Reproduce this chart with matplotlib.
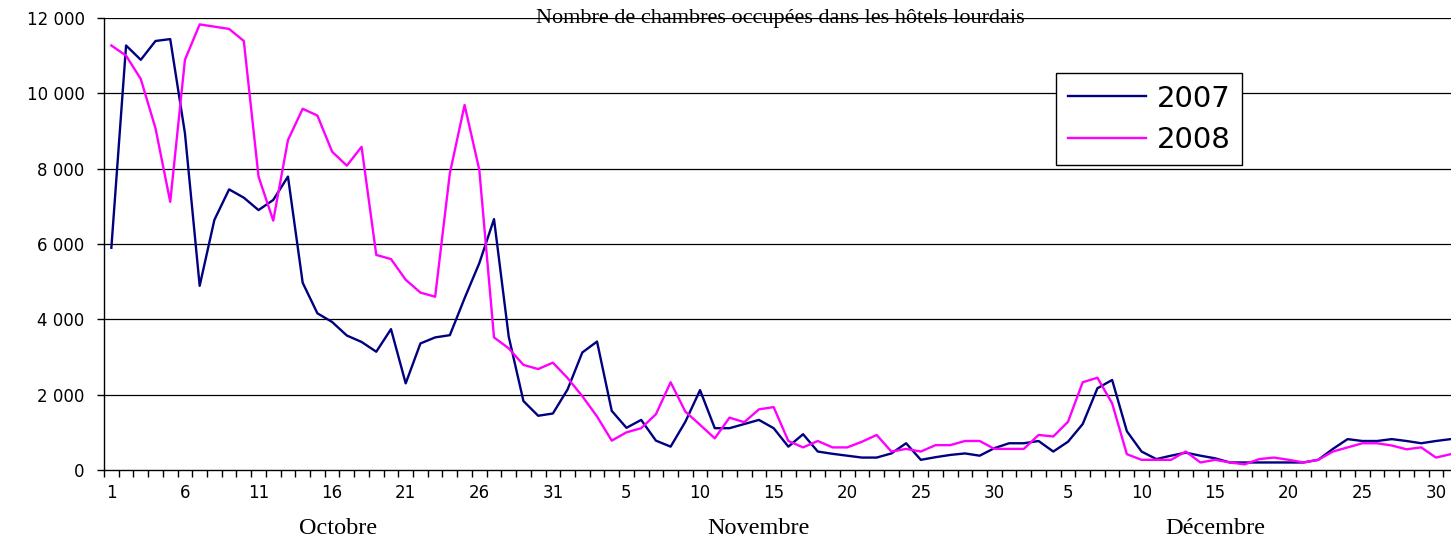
import numpy as np
import matplotlib
matplotlib.use('Agg')
import matplotlib.pyplot as plt
import matplotlib.transforms as mtransforms
from matplotlib.ticker import FixedLocator, FuncFormatter

# Nombre de chambres occupées par jour, du 1er octobre au 31 décembre
occ_2007 = [5900, 11270, 10890, 11390, 11440, 8940, 4890, 6640, 7450, 7230,
            6900, 7170, 7790, 4970, 4160, 3930, 3570, 3400, 3140, 3740,
            2300, 3360, 3520, 3580, 4560, 5490, 6660, 3540, 1830, 1440, 1500,
            # novembre
            2140, 3120, 3410, 1570, 1120, 1330, 780, 620, 1280, 2120,
            1110, 1110, 1220, 1330, 1110, 620, 950, 490, 430, 380,
            330, 330, 440, 710, 270, 340, 400, 440, 380, 580,
            # decembre
            710, 710, 770, 490, 750, 1220, 2170, 2390, 1030, 490,
            290, 380, 460, 380, 310, 200, 200, 200, 200, 200,
            200, 270, 560, 820, 770, 770, 820, 770, 710, 770, 820]

occ_2008 = [11270, 11000, 10380, 9070, 7120, 10890, 11830, 11770, 11710, 11390,
            7790, 6620, 8760, 9590, 9410, 8450, 8080, 8580, 5710, 5600,
            5050, 4710, 4600, 7880, 9690, 7970, 3520, 3230, 2790, 2680, 2850,
            # novembre
            2440, 1960, 1420, 780, 1000, 1110, 1480, 2330, 1550, 1200,
            840, 1390, 1270, 1610, 1670, 770, 600, 770, 600, 600,
            750, 930, 490, 560, 490, 660, 660, 770, 770, 560,
            # decembre
            560, 560, 930, 890, 1280, 2330, 2450, 1770, 420, 270,
            270, 270, 490, 200, 270, 200, 150, 290, 330, 270,
            200, 270, 490, 600, 710, 710, 650, 550, 600, 330, 420]

jours = list(range(1, 32)) + list(range(1, 31)) + list(range(1, 32))
mois = ['Octobre', 'Novembre', 'Décembre']
mois_pos = [15.4, 44.0, 75.0]
titre = 'Nombre de chambres occupées dans les hôtels lourdais'

x = np.arange(len(jours))

fig = plt.figure(figsize=(14.51, 5.40), dpi=100)
ax = fig.add_axes([104 / 1451, 70 / 540, (1458 - 104) / 1451, 452 / 540])

l1, = ax.plot(x, occ_2007, color='#000080', lw=1.7, label='2007')
l2, = ax.plot(x, occ_2008, color='#FF00FF', lw=1.7, label='2008')

ax.set_xlim(-0.5, len(jours) - 0.5)
ax.set_ylim(0, 12000)

# grille horizontale
for v in range(2000, 12001, 2000):
    ax.axhline(v, color='black', lw=0.9, zorder=0)

ax.spines['top'].set_visible(False)
ax.spines['right'].set_visible(False)
ax.spines['left'].set_linewidth(1.0)
ax.spines['bottom'].set_linewidth(1.0)

ax.set_yticks(range(0, 12001, 2000))
ax.yaxis.set_major_formatter(FuncFormatter(lambda v, p: f'{int(v):,}'.replace(',', ' ')))
ax.tick_params(axis='y', direction='out', length=5, width=1, pad=9,
               labelsize=12, labelcolor='black')

# étiquettes tous les 5 jours, petites graduations entre chaque jour
lab_idx = [i for i in range(len(jours)) if i in range(0, 31, 5)
           or (i >= 31 and i < 61 and (i - 31 + 1) % 5 == 0)
           or (i >= 61 and (i - 61 + 1) % 5 == 0)]
ax.set_xticks(lab_idx)
ax.set_xticklabels([str(jours[i]) for i in lab_idx])
ax.xaxis.set_minor_locator(FixedLocator(np.arange(-0.5, len(jours), 1.0)))
ax.tick_params(axis='x', which='major', length=0, pad=10, labelsize=12)
ax.tick_params(axis='x', which='minor', direction='out', length=5, width=1)

for t in ax.get_xticklabels() + ax.get_yticklabels():
    t.set_family('DejaVu Sans')

trans = mtransforms.blended_transform_factory(ax.transData, fig.transFigure)
for m, p in zip(mois, mois_pos):
    ax.text(p, 1 - 529 / 540, m, transform=trans, ha='center', va='center',
            fontsize=17.5, family='Liberation Serif')

fig.text(780 / 1451, 1 - 18 / 540, titre, ha='center', va='center',
         fontsize=16, family='Liberation Serif')

leg = ax.legend(handles=[l1, l2], loc='upper left',
                bbox_to_anchor=(1056 / 1451, 1 - 73 / 540),
                bbox_transform=fig.transFigure,
                fontsize=21, frameon=True, fancybox=False, edgecolor='black',
                framealpha=1, facecolor='white',
                handlelength=2.7, handletextpad=0.35, borderpad=0.4,
                labelspacing=0.45, borderaxespad=0)
leg.get_frame().set_linewidth(1.0)
for t in leg.get_texts():
    t.set_family('DejaVu Sans')

fig.savefig('out.png', dpi=100)
